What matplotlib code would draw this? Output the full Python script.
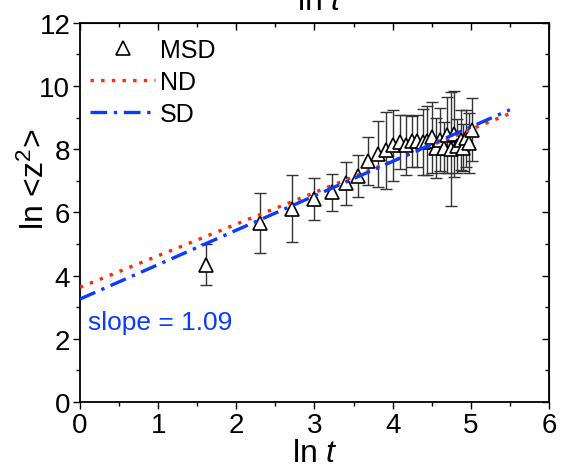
import matplotlib
matplotlib.use('Agg')
import matplotlib.pyplot as plt

plt.rcParams['font.family'] = ['Liberation Sans', 'DejaVu Sans']
plt.rcParams['mathtext.fontset'] = 'custom'
plt.rcParams['mathtext.rm'] = 'Liberation Sans'
plt.rcParams['mathtext.it'] = 'Liberation Sans:italic'

# MSD points (ln t, ln <z^2>, error)
ln_t = [1.609, 2.303, 2.708, 2.996, 3.219, 3.401, 3.555, 3.689, 3.807, 3.912,
        4.007, 4.094, 4.174, 4.248, 4.317, 4.382, 4.443, 4.500, 4.554, 4.605,
        4.654, 4.700, 4.745, 4.787, 4.828, 4.868, 4.905, 4.942, 4.977, 5.011]
ln_msd = [4.35, 5.67, 6.12, 6.43, 6.64, 6.93, 7.15, 7.63, 7.85, 7.97,
          8.12, 8.23, 8.14, 8.25, 8.26, 8.22, 8.27, 8.38, 8.05, 8.30,
          8.05, 8.45, 8.00, 8.48, 8.10, 8.30, 8.05, 8.35, 8.20, 8.62]
msd_err = [0.65, 0.96, 1.07, 0.66, 0.59, 0.68, 0.66, 0.77, 1.03, 1.22,
           1.13, 0.86, 0.94, 0.80, 0.83, 1.05, 1.10, 1.12, 0.95, 1.00,
           0.80, 1.20, 1.80, 1.35, 0.85, 0.95, 0.75, 0.90, 0.95, 1.00]

# fit lines
fit_x = [0.0, 5.5]
nd_y = [3.63, 9.13]
sd_y = [3.26, 9.25]

red = '#ff2a00'
blue = '#0a3cff'

fig = plt.figure(figsize=(5.61, 4.77), dpi=100)
ax = fig.add_axes([0.1426, 0.155, 0.836, 0.795])

ax.errorbar(ln_t, ln_msd, yerr=msd_err, fmt='none', ecolor='#333333',
            elinewidth=1.0, capsize=4.5, capthick=1.0, zorder=2)
ax.plot(ln_t, ln_msd, linestyle='none', marker='^', markersize=10,
        markerfacecolor='white', markeredgecolor='black', markeredgewidth=1.2,
        label='MSD', zorder=3)
ax.plot(fit_x, nd_y, color=red, linestyle=(0, (1, 2.2)), linewidth=2.4,
        label='ND', zorder=4)
ax.plot(fit_x, sd_y, color=blue, linestyle=(0, (5, 2, 1, 2)), linewidth=2.4,
        label='SD', zorder=5)

ax.text(0.1, 2.3, 'slope = 1.09', color=blue, fontsize=19)

ax.set_xlim(0, 6)
ax.set_ylim(0, 12)
ax.set_xticks(range(0, 7))
ax.set_yticks(range(0, 13, 2))
ax.set_xticks([0.5 + i for i in range(6)], minor=True)
ax.set_yticks([1 + 2 * i for i in range(6)], minor=True)
ax.tick_params(which='both', direction='out', top=False, right=False,
               labelsize=20, width=1.0, pad=2)
ax.tick_params(which='major', length=5)
ax.tick_params(which='minor', length=3)
for s in ax.spines.values():
    s.set_linewidth(1.3)

# mirrored inward ticks on top and right
sec_x = ax.secondary_xaxis('top')
sec_x.set_xticks(range(0, 7))
sec_x.set_xticks([0.5 + i for i in range(6)], minor=True)
sec_x.tick_params(which='both', direction='in', labeltop=False, width=1.0)
sec_x.tick_params(which='major', length=5)
sec_x.tick_params(which='minor', length=3)
sec_y = ax.secondary_yaxis('right')
sec_y.set_yticks(range(0, 13, 2))
sec_y.set_yticks([1 + 2 * i for i in range(6)], minor=True)
sec_y.tick_params(which='both', direction='in', labelright=False, width=1.0)
sec_y.tick_params(which='major', length=5)
sec_y.tick_params(which='minor', length=3)

ax.set_xlabel('ln $t$', fontsize=23, labelpad=0)
ax.set_ylabel('ln <z$^2$>', fontsize=23)
ax.yaxis.set_label_coords(-0.062, 0.59)

ax.legend(loc='upper left', bbox_to_anchor=(-0.01, 1.0), frameon=False,
          fontsize=18, handlelength=2.6, handletextpad=0.2, labelspacing=0.32,
          borderaxespad=0.2)

fig.text(0.57, 0.978, 'ln $t$', fontsize=23, ha='center', va='baseline')

fig.savefig('out.png', dpi=100)
